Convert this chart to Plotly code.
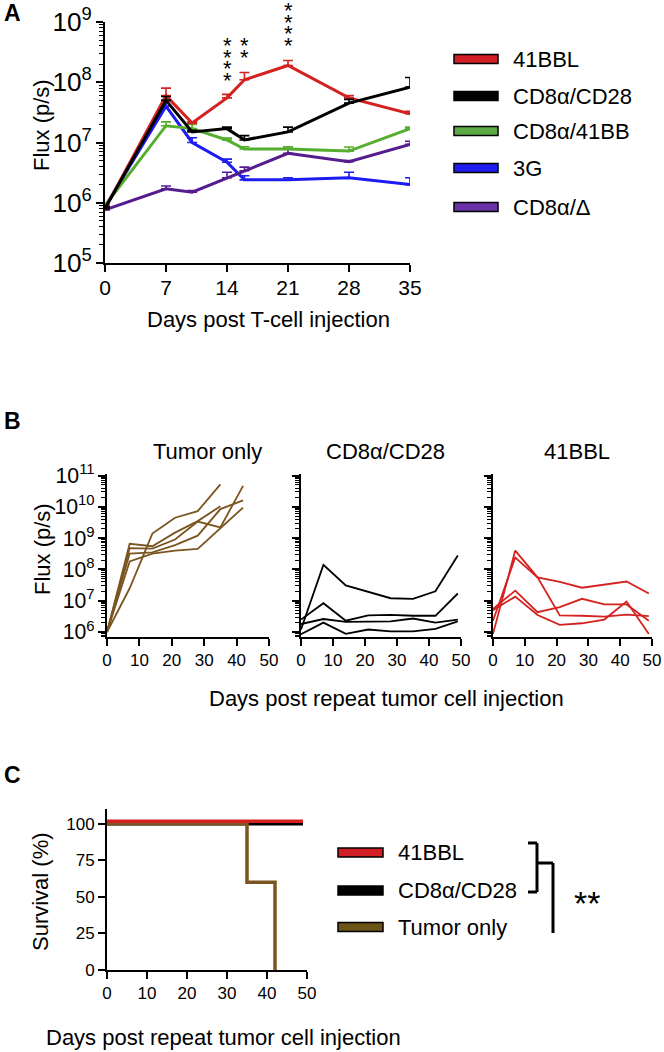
import plotly.graph_objects as go

W, H = 664, 1052
FONT = "Liberation Sans, Arial, sans-serif"

# ---------------- Panel A: flux after T-cell injection ----------------
days_a = [0, 7, 10, 14, 16, 21, 28, 35]
flux_41bbl = [8.0e5, 6.0e7, 2.1e7, 5.5e7, 1.1e8, 1.9e8, 5.5e7, 3.0e7]
sem_41bbl = [1.0e5, 2.0e7, 1.0e6, 8.0e6, 3.5e7, 4.0e7, 5.0e6, 3.0e6]
flux_cd28 = [8.0e5, 5.0e7, 1.5e7, 1.7e7, 1.1e7, 1.5e7, 4.5e7, 8.3e7]
sem_cd28 = [5.0e4, 8.0e6, 1.0e6, 1.0e6, 2.0e6, 3.0e6, 7.0e6, 3.7e7]
flux_41bb = [9.0e5, 1.9e7, 1.7e7, 1.1e7, 7.8e6, 7.8e6, 7.2e6, 1.7e7]
sem_41bb = [1.0e5, 3.0e6, 3.0e6, 8.0e5, 7.0e5, 7.0e5, 1.2e6, 1.0e6]
flux_3g = [8.5e5, 4.0e7, 1.0e7, 4.7e6, 2.4e6, 2.4e6, 2.6e6, 2.0e6]
sem_3g = [5.0e4, 1.0e7, 2.0e6, 6.0e5, 4.0e5, 2.0e5, 6.0e5, 6.0e5]
flux_delta = [7.6e5, 1.7e6, 1.5e6, 2.6e6, 3.4e6, 6.6e6, 4.8e6, 9.3e6]
sem_delta = [5.0e4, 2.0e5, 1.0e5, 6.0e5, 5.0e5, 1.4e6, 2.0e5, 1.2e6]
a_labels = ["41BBL", "CD8α/CD28", "CD8α/41BB", "3G", "CD8α/Δ"]
a_ticks = [0, 7, 14, 21, 28, 35]
stars_days = [14, 16, 21]
stars_count = [4, 2, 4]

# ---------------- Panel B: individual mice after re-challenge ----------------
days_b = [0, 7, 14, 21, 28, 35, 42, 49]
tumor_only = [
    [1.0e6, 2.5e7, 1.4e9, 4.5e9, 7.3e9, 5.2e10],
    [1.0e6, 6.6e8, 5.5e8, 1.5e9, 3.5e9, 1.05e10],
    [1.0e6, 4.8e8, 4.6e8, 9.0e8, 3.4e9, 2.2e9, 4.7e10],
    [1.0e6, 3.2e8, 3.5e8, 6.0e8, 1.2e9, 8.5e9, 1.6e10],
    [1.0e6, 1.8e8, 3.2e8, 4.0e8, 4.5e8, 2.0e9, 9.5e9],
]
cd28_mice = [
    [1.2e6, 1.4e8, 3.1e7, 1.9e7, 1.2e7, 1.15e7, 2.0e7, 2.8e8],
    [2.5e6, 8.3e6, 2.3e6, 3.4e6, 3.5e6, 3.3e6, 3.3e6, 1.7e7],
    [1.8e6, 2.6e6, 2.1e6, 2.2e6, 2.2e6, 2.7e6, 2.0e6, 2.5e6],
    [8.5e5, 2.0e6, 8.7e5, 1.2e6, 1.05e6, 1.05e6, 1.25e6, 2.2e6],
]
bbl_mice = [
    [8.7e5, 4.0e8, 5.6e7, 3.4e6, 3.3e6, 3.1e6, 3.6e6, 3.2e6],
    [2.3e6, 2.4e8, 5.6e7, 4.0e7, 2.6e7, 3.3e7, 4.1e7, 1.7e7],
    [5.5e6, 2.1e7, 4.3e6, 6.2e6, 1.15e7, 7.6e6, 7.6e6, 2.3e6],
    [5.0e6, 1.35e7, 3.5e6, 1.7e6, 1.9e6, 2.5e6, 9.4e6, 8.7e5],
]
b_titles = ["Tumor only", "CD8α/CD28", "41BBL"]

# ---------------- Panel C: survival ----------------
surv_days_41bbl = [0, 49]
surv_41bbl = [100, 100]
surv_days_cd28 = [0, 49]
surv_cd28 = [100, 100]
surv_days_tumor = [0, 35, 42]
surv_tumor = [100, 60, 0]
c_labels = ["41BBL", "CD8α/CD28", "Tumor only"]

RED, BLACK, GREEN, BLUE, PURPLE, BROWN = "#D42220", "#000000", "#55AE2E", "#1C1CF2", "#561C8E", "#7A5520"
SW_RED, SW_GREEN, SW_BLUE, SW_PURPLE, SW_BROWN = "#D11F26", "#5BAA46", "#1E1EF0", "#6A32A8", "#6B5418"


def fx(px):
    return px / W


def fy(py):
    return 1 - py / H


fig = go.Figure()

# Panel A traces (drawn bottom to top)
a_series = [
    (flux_3g, sem_3g, BLUE),
    (flux_delta, sem_delta, PURPLE),
    (flux_41bb, sem_41bb, GREEN),
    (flux_41bbl, sem_41bbl, RED),
    (flux_cd28, sem_cd28, BLACK),
]
for vals, sem, col in a_series:
    fig.add_trace(go.Scatter(
        x=days_a, y=vals, mode="lines", line=dict(color=col, width=3),
        error_y=dict(type="data", array=sem, arrayminus=[0] * len(sem), symmetric=False,
                     color=col, thickness=1.6, width=5),
        cliponaxis=False, xaxis="x", yaxis="y"))

# Panel B traces
for mice, col, ax in [(tumor_only, BROWN, "2"), (cd28_mice, BLACK, "3"), (bbl_mice, RED, "4")]:
    for m in mice:
        fig.add_trace(go.Scatter(
            x=days_b[:len(m)], y=m, mode="lines", line=dict(color=col, width=1.8),
            xaxis="x" + ax, yaxis="y" + ax))

# Panel C traces
fig.add_trace(go.Scatter(x=surv_days_cd28, y=surv_cd28, mode="lines", line_shape="hv",
                         line=dict(color=BLACK, width=3.5), xaxis="x5", yaxis="y5", cliponaxis=False))
fig.add_trace(go.Scatter(x=surv_days_tumor, y=surv_tumor, mode="lines", line_shape="hv",
                         line=dict(color=BROWN, width=3.5), xaxis="x5", yaxis="y5", cliponaxis=False))
fig.add_trace(go.Scatter(x=surv_days_41bbl, y=surv_41bbl, mode="lines", line_shape="hv",
                         line=dict(color=RED, width=3.5), xaxis="x5", yaxis="y6", cliponaxis=False))

base = dict(showline=True, linecolor="black", linewidth=2, ticks="outside", tickcolor="black",
            tickwidth=2, ticklen=7, showgrid=False, zeroline=False, automargin=False)
minor = dict(ticks="outside", ticklen=4, tickwidth=1.4, tickcolor="black", dtick="D1")

layout = dict(
    width=W, height=H, margin=dict(l=0, r=0, t=0, b=0, autoexpand=False),
    paper_bgcolor="white", plot_bgcolor="white", showlegend=False,
    font=dict(family=FONT, color="black"),
    # Panel A
    xaxis=dict(base, domain=[fx(105), fx(410)], range=[0, 35], tickvals=a_ticks,
               anchor="y", tickfont=dict(size=21), ticklabelstandoff=-2),
    yaxis=dict(base, type="log", domain=[fy(263), fy(22)], range=[5, 9], dtick=1,
               exponentformat="power", anchor="x", tickfont=dict(size=21), minor=minor),
    # Panel B
    xaxis2=dict(base, domain=[fx(107), fx(269)], range=[0, 50], dtick=10, anchor="y2",
                tickfont=dict(size=17)),
    yaxis2=dict(base, type="log", domain=[fy(637), fy(474)], range=[5.84, 11.05], dtick=1,
                exponentformat="power", anchor="x2", tickfont=dict(size=17), minor=minor),
    xaxis3=dict(base, domain=[fx(301), fx(461)], range=[0, 50], dtick=10, anchor="y3",
                tickfont=dict(size=17)),
    yaxis3=dict(base, type="log", domain=[fy(637), fy(474)], range=[5.84, 11.05], dtick=1,
                showticklabels=False, anchor="x3", minor=minor),
    xaxis4=dict(base, domain=[fx(493), fx(652)], range=[0, 50], dtick=10, anchor="y4",
                tickfont=dict(size=17)),
    yaxis4=dict(base, type="log", domain=[fy(637), fy(474)], range=[5.84, 11.05], dtick=1,
                showticklabels=False, anchor="x4", minor=minor),
    # Panel C
    xaxis5=dict(base, domain=[fx(107), fx(307)], range=[0, 50], dtick=10, anchor="y5",
                tickfont=dict(size=17)),
    yaxis5=dict(base, domain=[fy(970), fy(809)], range=[0, 110], tickvals=[0, 25, 50, 75, 100],
                anchor="x5", tickfont=dict(size=17)),
    yaxis6=dict(overlaying="y5", range=[-1.6, 108.4], visible=False, anchor="x5", automargin=False),
)
fig.update_layout(**layout)

ann = []
shapes = []


def text(x, y, s, size, **kw):
    d = dict(x=fx(x), y=fy(y), xref="paper", yref="paper", text=s, showarrow=False,
             font=dict(family=FONT, size=size, color="black"), xanchor="center", yanchor="middle")
    d.update(kw)
    ann.append(d)


# panel letters
text(2, 13, "<b>A</b>", 23, xanchor="left")
text(2, 421, "<b>B</b>", 23, xanchor="left")
text(2, 775, "<b>C</b>", 23, xanchor="left")

# axis titles
text(41, 125, "Flux (p/s)", 22, textangle=-90)
text(268, 320, "Days post T-cell injection", 22)
text(42, 549, "Flux (p/s)", 22, textangle=-90)
text(386, 698, "Days post repeat tumor cell injection", 22)
text(40, 892, "Survival (%)", 22, textangle=-90)
text(224, 1037, "Days post repeat tumor cell injection", 22)

# panel B titles
for t, cx in zip(b_titles, [207, 385, 577]):
    text(cx, 451, t, 22)

# significance stars, panel A
star_top = {14: 42, 16: 42, 21: 7}
for d, n in zip(stars_days, stars_count):
    for k in range(n):
        ann.append(dict(x=d, y=fy(star_top[d] + 11.4 * k + 4), xref="x", yref="paper", text="*",
                        showarrow=False, font=dict(family=FONT, size=22, color="black"),
                        xanchor="center", yanchor="middle"))

# legend A
a_sw = [SW_RED, BLACK, SW_GREEN, SW_BLUE, SW_PURPLE]
for lab, col, cy in zip(a_labels, a_sw, [59, 96, 131, 168, 207]):
    shapes.append(dict(type="rect", xref="paper", yref="paper", x0=fx(454), x1=fx(498),
                       y0=fy(cy + 4.5), y1=fy(cy - 4.5), fillcolor=col,
                       line=dict(color="black", width=1.5)))
    text(511, cy, lab, 22, xanchor="left")

# legend C
c_sw = [SW_RED, BLACK, SW_BROWN]
for lab, col, cy in zip(c_labels, c_sw, [852.5, 890.5, 927]):
    shapes.append(dict(type="rect", xref="paper", yref="paper", x0=fx(338), x1=fx(383),
                       y0=fy(cy + 4.5), y1=fy(cy - 4.5), fillcolor=col,
                       line=dict(color="black", width=1.5)))
    text(396, cy, lab, 22, xanchor="left")

# bracket for C
for x0, y0, x1, y1 in [(528, 843, 537, 843), (537, 843, 537, 892), (528, 892, 537, 892),
                       (537, 863, 553, 863), (553, 863, 553, 933)]:
    shapes.append(dict(type="line", xref="paper", yref="paper", x0=fx(x0), y0=fy(y0),
                       x1=fx(x1), y1=fy(y1), line=dict(color="black", width=3)))
text(587, 903, "**", 34)

fig.update_layout(annotations=ann, shapes=shapes)
# drop the page's default 8px body margin so the figure sits at the window origin
fig.write_html("out.html", config={"displayModeBar": False},
               post_script="document.body.style.margin='0';")
